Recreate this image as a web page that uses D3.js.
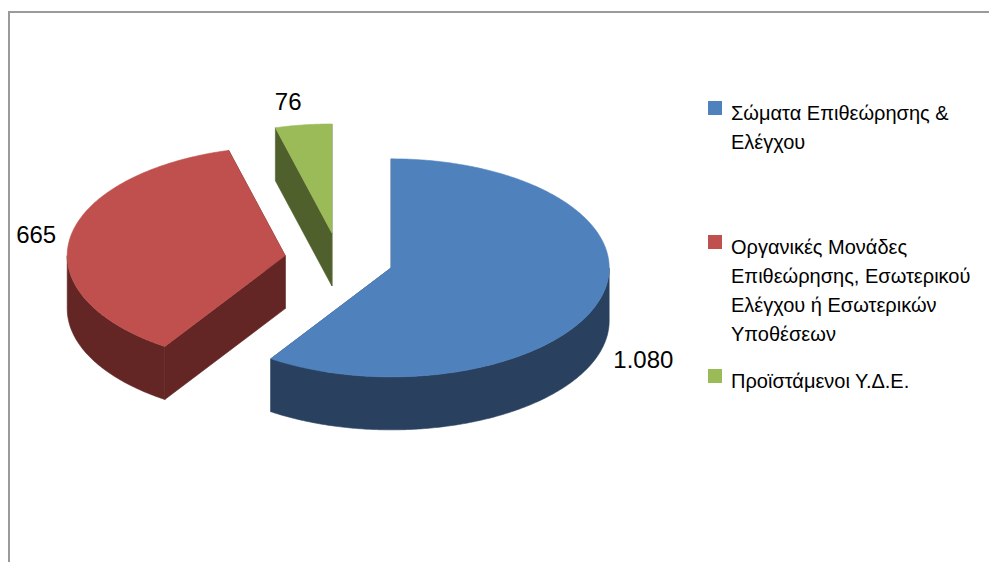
<!DOCTYPE html>
<html>
<head>
<meta charset="utf-8">
<script src="https://cdn.jsdelivr.net/npm/d3@7"></script>
<style>
  body { margin: 0; background: #fff; }
  svg { display: block; }
  text { font-family: "Liberation Sans", Arial, sans-serif; fill: #000; }
</style>
</head>
<body>
<svg id="chart" width="989" height="562"></svg>
<script>
// data
var categories = [
  "Σώματα Επιθεώρησης & Ελέγχου",
  "Οργανικές Μονάδες Επιθεώρησης, Εσωτερικού Ελέγχου ή Εσωτερικών Υποθέσεων",
  "Προϊστάμενοι Υ.Δ.Ε."
];
var values = [1080, 665, 76];

var topColors = ["#4f81bd", "#c0504d", "#9bbb59"];
var sideColors = ["#29415f", "#632624", "#4f602c"];

// greek number format: 1.080
var fmt = d3.formatLocale({decimal: ",", thousands: ".", grouping: [3], currency: ["", "€"]}).format(",");

var svg = d3.select("#chart");

// chart area border (only top + left show inside the picture)
svg.append("path")
  .attr("d", "M9,562 V12 H989")
  .attr("fill", "none")
  .attr("stroke", "#9a9a9a")
  .attr("stroke-width", 2);

// 3d pie settings
var cx = 339, cy = 260, rx = 218, ry = 109, depth = 53, explode = 0.25;

var slices = d3.pie().sort(null).value(function(d) { return d; })(values);

function pt(o, a, dy) {
  return [o[0] + rx * Math.sin(a), o[1] - ry * Math.cos(a) + (dy || 0)];
}
function arcPts(o, a0, a1, dy) {
  var n = Math.max(2, Math.ceil(Math.abs(a1 - a0) / 0.01)), out = [];
  for (var i = 0; i <= n; i++) out.push(pt(o, a0 + (a1 - a0) * i / n, dy));
  return out;
}
var line = d3.line();

slices.forEach(function(s) {
  var mid = (s.startAngle + s.endAngle) / 2;
  s.mid = mid;
  s.o = [cx + explode * rx * Math.sin(mid), cy - explode * ry * Math.cos(mid)];
});

// back slices first
var order = slices.slice().sort(function(a, b) { return a.o[1] - b.o[1]; });

var pie = svg.append("g");

order.forEach(function(s) {
  var g = pie.append("g");
  var o = s.o, side = sideColors[s.index], top = topColors[s.index];

  //radial walls
  [s.startAngle, s.endAngle].forEach(function(a) {
    var p = pt(o, a);
    g.append("path")
      .attr("d", line([o, p, [p[0], p[1] + depth], [o[0], o[1] + depth]]) + "Z")
      .attr("fill", side).attr("stroke", side).attr("stroke-width", 0.6);
  });

  //outer wall, only the part facing us
  var a0 = Math.max(s.startAngle, Math.PI / 2), a1 = Math.min(s.endAngle, 3 * Math.PI / 2);
  if (a1 > a0) {
    var pts = arcPts(o, a0, a1, 0).concat(arcPts(o, a1, a0, depth));
    g.append("path")
      .attr("d", line(pts) + "Z")
      .attr("fill", side).attr("stroke", side).attr("stroke-width", 0.6);
  }

  //top face
  g.append("path")
    .attr("d", line([o].concat(arcPts(o, s.startAngle, s.endAngle, 0))) + "Z")
    .attr("fill", top).attr("stroke", top).attr("stroke-width", 0.6);
});

// data labels, outside end
var gap = 14;
slices.forEach(function(s) {
  var sx = Math.sin(s.mid), cy_ = -Math.cos(s.mid);
  var p = pt(s.o, s.mid, cy_ > 0 ? depth : 0);
  var anchor = sx > 0.05 ? "start" : (sx < -0.05 ? "end" : "middle");
  svg.append("text")
    .attr("x", p[0] + sx * gap)
    .attr("y", p[1] + cy_ * (gap + 10))
    .attr("dy", "0.35em")
    .attr("text-anchor", anchor)
    .style("font-size", "24px")
    .text(fmt(values[s.index]));
});

// legend
var legendY = d3.scaleLinear().domain([0, categories.length - 1]).range([101, 369]);
var legend = svg.append("g");

categories.forEach(function(c, i) {
  var y = legendY(i);
  legend.append("rect")
    .attr("x", 708).attr("y", y)
    .attr("width", 14).attr("height", 14)
    .attr("fill", topColors[i]);

  var t = legend.append("text")
    .attr("x", 731).attr("y", y + 19)
    .style("font-size", "20px");

  //wrap words
  var words = c.split(" "), lineTxt = [], lineNo = 0;
  var ts = t.append("tspan").attr("x", 731);
  words.forEach(function(w) {
    lineTxt.push(w);
    ts.text(lineTxt.join(" "));
    if (ts.node().getComputedTextLength() > 250 && lineTxt.length > 1) {
      lineTxt.pop();
      ts.text(lineTxt.join(" "));
      lineTxt = [w];
      lineNo++;
      ts = t.append("tspan").attr("x", 731).attr("dy", 29).text(w);
    }
  });
});
</script>
</body>
</html>
